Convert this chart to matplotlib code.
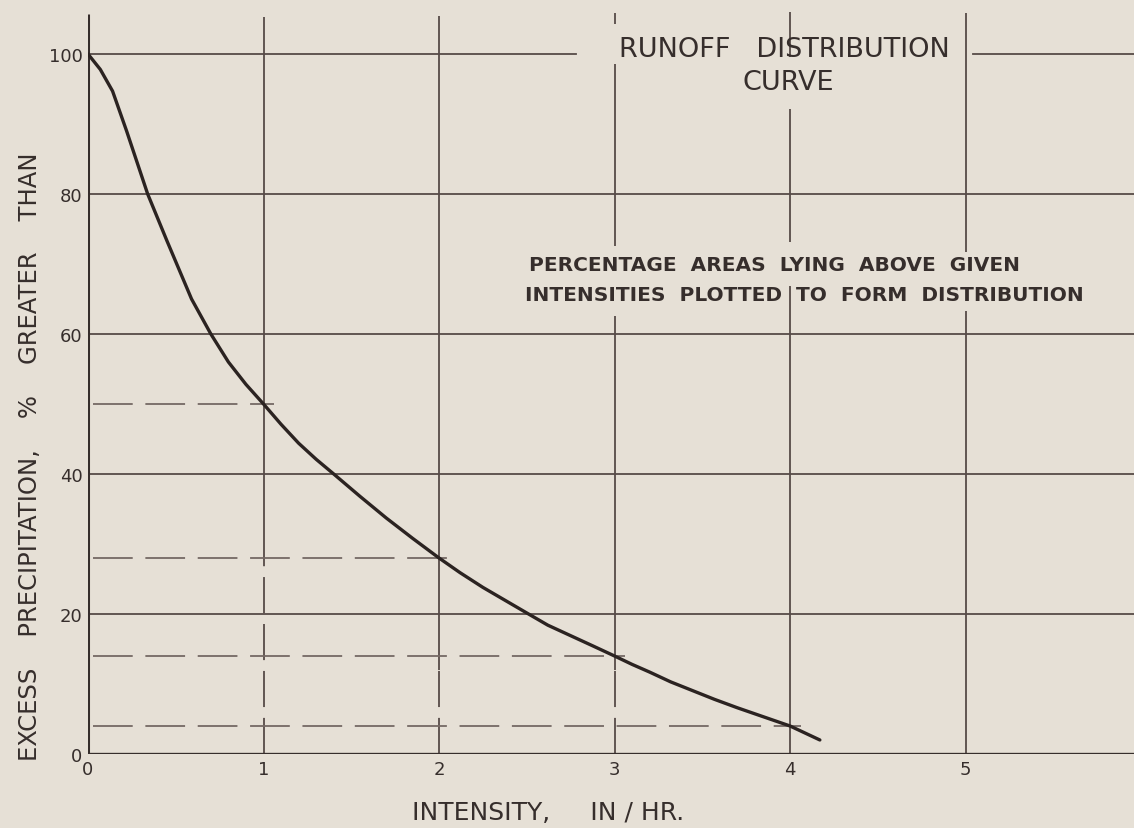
import matplotlib.pyplot as plt

# runoff distribution curve
intensity = [0, 0.07, 0.14, 0.22, 0.34, 0.45, 0.59, 0.7, 0.8, 0.9, 1.0, 1.1,
             1.2, 1.3, 1.4, 1.55, 1.7, 1.85, 2.0, 2.12, 2.25, 2.38, 2.51,
             2.62, 2.75, 2.88, 3.0, 3.1, 3.2, 3.32, 3.45, 3.57, 3.7, 3.85,
             4.0, 4.17]
excess_pct = [100, 97.8, 94.7, 89, 80, 73.3, 65, 60, 56, 52.8, 50, 47.1,
              44.4, 42.1, 40, 36.8, 33.7, 30.8, 28, 25.9, 23.8, 21.9, 20,
              18.4, 16.9, 15.4, 14, 12.8, 11.7, 10.3, 9, 7.8, 6.6, 5.3,
              4, 2]

# dashed projections from the curve back to the % axis
proj_x = [1, 2, 3, 4]
proj_y = [50, 28, 14, 4]

x_ticks = [0, 1, 2, 3, 4, 5]
y_ticks = [0, 20, 40, 60, 80, 100]

paper = '#e6e0d6'
ink = '#362e2c'
grid_ink = '#564b48'
dash_ink = '#756964'

fig = plt.figure(figsize=(11.34, 8.29), dpi=100, facecolor=paper)
ax = fig.add_axes([0.0776, 0.0893, 0.9224, 0.895])
ax.set_facecolor(paper)
ax.set_xlim(0, 5.96)
ax.set_ylim(0, 106)
for s in ax.spines.values():
    s.set_visible(False)

# horizontal grid, the 100 line is broken for the title
for y in y_ticks[1:-1]:
    ax.plot([0, 5.96], [y, y], color=grid_ink, lw=1.3, solid_capstyle='butt')
ax.plot([0, 2.78], [100, 100], color=grid_ink, lw=1.3)
ax.plot([5.04, 5.96], [100, 100], color=grid_ink, lw=1.3)

# vertical grid, with breaks around the lettering
solid_runs = {
    1: [(30, 105.3)],
    2: [(12, 105.5)],
    3: [(104.3, 105.8), (72.6, 98.6), (12, 62.6)],
    4: [(99.6, 106.2), (73.1, 92.1), (0, 66.9)],
    5: [(71.7, 105.8), (0, 63.3)],
}
dashed_runs = {1: (0, 30), 2: (0, 12), 3: (0, 12)}
for x, runs in solid_runs.items():
    for y0, y1 in runs:
        ax.plot([x, x], [y0, y1], color=grid_ink, lw=1.3, solid_capstyle='butt')
for x, (y0, y1) in dashed_runs.items():
    ax.plot([x, x], [y0, y1], color=grid_ink, lw=1.3, dashes=(20, 6))

# axes lines
ax.plot([0, 0], [0, 105.7], color=ink, lw=2.2, solid_capstyle='butt')
ax.plot([0, 5.96], [0, 0], color=ink, lw=2.4, solid_capstyle='butt')

# dashed projections
for px, py in zip(proj_x, proj_y):
    ax.plot([0.03, px + 0.06], [py, py], color=dash_ink, lw=1.3, dashes=(22, 7))

ax.plot(intensity, excess_pct, color='#2b2321', lw=2.4,
        solid_joinstyle='round', solid_capstyle='round')

ax.set_xticks(x_ticks)
ax.set_xticklabels([str(v) for v in x_ticks])
ax.set_yticks(y_ticks)
ax.set_yticklabels([str(v) for v in y_ticks])
ax.tick_params(length=0, labelsize=13, colors=ink, pad=4)
ax.tick_params(axis='y', pad=4)

ax.text(3.97, 100.7, 'RUNOFF   DISTRIBUTION', ha='center', va='center',
        fontsize=19.5, color=ink)
ax.text(3.99, 96.0, 'CURVE', ha='center', va='center', fontsize=19.5, color=ink)

ax.text(2.51, 70, 'PERCENTAGE  AREAS  LYING  ABOVE  GIVEN', ha='left',
        va='center', fontsize=14.5, fontweight='bold', color=ink)
ax.text(2.49, 65.7, 'INTENSITIES  PLOTTED  TO  FORM  DISTRIBUTION', ha='left',
        va='center', fontsize=14.5, fontweight='bold', color=ink)

fig.text(0.0265, 0.449, 'EXCESS    PRECIPITATION,    %    GREATER    THAN',
         rotation=90, ha='center', va='center', fontsize=17.5, color=ink)
fig.text(0.483, 0.0195, 'INTENSITY,     IN / HR.', ha='center', va='center',
         fontsize=18, color=ink)

fig.savefig('out.png', dpi=100, facecolor=paper)
